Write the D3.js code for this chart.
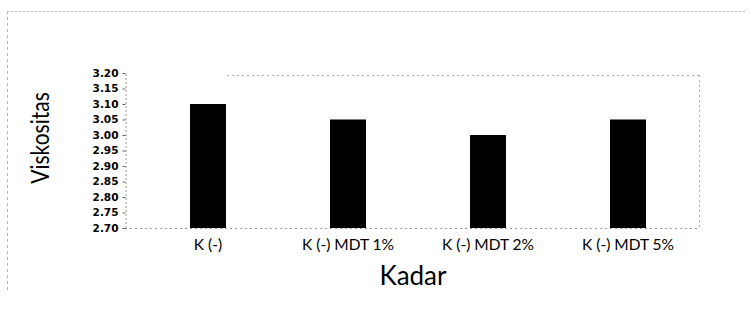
<!DOCTYPE html>
<html>
<head>
<meta charset="utf-8">
<script src="https://cdn.jsdelivr.net/npm/d3@7"></script>
<style>
  html, body { margin: 0; padding: 0; background: #fff; }
  svg { display: block; }
</style>
</head>
<body>
<svg id="chart" width="749" height="320"></svg>
<script>
const categories = ["K (-)", "K (-) MDT 1%", "K (-) MDT 2%", "K (-) MDT 5%"];
const viskositas = [3.10, 3.05, 3.00, 3.05];
const yTicks = [2.70, 2.75, 2.80, 2.85, 2.90, 2.95, 3.00, 3.05, 3.10, 3.15, 3.20];
const xTitle = "Kadar";
const yTitle = "Viskositas";

const svg = d3.select("#chart");
const W = 749, H = 320;
const plot = { left: 125, right: 699, top: 73, bottom: 228 };

const x = d3.scaleBand()
  .domain(categories)
  .range([138, 698])
  .paddingInner(0.743)
  .paddingOuter(0.3715);

const y = d3.scaleLinear()
  .domain([2.70, 3.20])
  .range([plot.bottom, plot.top]);

const grey = "#9a9a9a";

// outer frame (dotted, light)
svg.append("line").attr("x1", 7).attr("x2", W - 3).attr("y1", 11.5).attr("y2", 11.5)
  .attr("stroke", "#b5b5b5").attr("stroke-width", 1).attr("stroke-dasharray", "2,2");
svg.append("line").attr("x1", 7.5).attr("x2", 7.5).attr("y1", 11).attr("y2", 290)
  .attr("stroke", "#b5b5b5").attr("stroke-width", 1).attr("stroke-dasharray", "3,3");

// plot area border (top, right)
svg.append("line").attr("x1", 227).attr("x2", plot.right).attr("y1", 75.5).attr("y2", 75.5)
  .attr("stroke", "#b0b0b0").attr("stroke-dasharray", "2,3");
svg.append("line").attr("x1", plot.right + 0.5).attr("x2", plot.right + 0.5).attr("y1", 75).attr("y2", plot.bottom + 1)
  .attr("stroke", "#b0b0b0").attr("stroke-dasharray", "2,3");

// bars
svg.append("g").selectAll("rect")
  .data(categories)
  .join("rect")
  .attr("x", d => x(d))
  .attr("width", x.bandwidth())
  .attr("y", (d, i) => y(viskositas[i]))
  .attr("height", (d, i) => y(2.70) - y(viskositas[i]))
  .attr("fill", "#000");

// baseline
svg.append("line").attr("x1", plot.left).attr("x2", plot.right).attr("y1", plot.bottom + 0.5).attr("y2", plot.bottom + 0.5)
  .attr("stroke", grey).attr("stroke-dasharray", "2,3");

// y axis
const yAxis = d3.axisLeft(y)
  .tickValues(yTicks)
  .tickFormat(d3.format(".2f"))
  .tickSize(3)
  .tickPadding(4);
const gy = svg.append("g").attr("transform", `translate(${plot.left + 0.5},0)`).call(yAxis);
gy.select(".domain").attr("stroke", grey).attr("stroke-dasharray", "2,2");
gy.selectAll(".tick line").attr("stroke", "#666");
gy.selectAll(".tick text")
  .attr("font-family", "'DejaVu Sans', sans-serif")
  .attr("font-weight", "bold")
  .attr("font-size", 10.5)
  .attr("fill", "#000");

// x axis labels
const xAxis = d3.axisBottom(x).tickSize(0).tickPadding(11);
const gx = svg.append("g").attr("transform", `translate(0,${plot.bottom})`).call(xAxis);
gx.select(".domain").remove();
gx.selectAll(".tick text")
  .attr("font-family", "'Lato', sans-serif")
  .attr("font-size", 15.5)
  .attr("fill", "#000");

// titles
svg.append("text")
  .attr("x", 413).attr("y", 285)
  .attr("text-anchor", "middle")
  .attr("font-family", "'Lato', sans-serif")
  .attr("font-size", 26)
  .attr("fill", "#000")
  .text(xTitle);

svg.append("text")
  .attr("transform", "translate(49,138) rotate(-90) scale(1,1.15)")
  .attr("text-anchor", "middle")
  .attr("font-family", "'Lato', sans-serif")
  .attr("font-size", 21)
  .attr("fill", "#000")
  .text(yTitle);
</script>
</body>
</html>
